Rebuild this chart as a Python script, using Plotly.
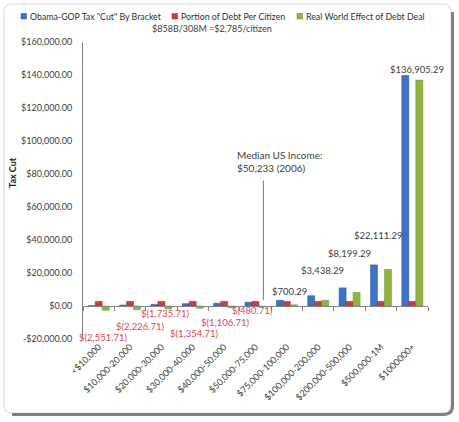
import plotly.graph_objects as go

# income brackets and series values
brackets = ["<$10,000", "$10,000-20,000", "$20,000-30,000", "$30,000-40,000",
            "$40,000-50,000", "$50,000-75,000", "$75,000-100,000",
            "$100,000-200,000", "$200,000-500,000", "$500,000-1M", "$1000000+"]
tax_cut = [233.29, 558.29, 1049.29, 1430.29, 1678.29, 2304.29, 3485.29,
           6223.29, 10984.29, 24896.29, 139690.29]
debt_per_citizen = [2785] * 11
real_effect = [-2551.71, -2226.71, -1735.71, -1354.71, -1106.71, -480.71, 700.29,
               3438.29, 8199.29, 22111.29, 136905.29]

y_ticks = [-20000, 0, 20000, 40000, 60000, 80000, 100000, 120000, 140000, 160000]
y_ticktext = ["-$20,000.00", "$0.00", "$20,000.00", "$40,000.00", "$60,000.00",
              "$80,000.00", "$100,000.00", "$120,000.00", "$140,000.00", "$160,000.00"]

series_names = ['Obama-GOP Tax "Cut" By Bracket', "Portion of Debt Per Citizen",
                "Real World Effect of Debt Deal"]
colors = ["#3D72C4", "#D23B3B", "#8DB63C"]
edges = ["#2A5599", "#A52828", "#6A8E28"]

# label placement (manual in the original): y in data units, x shift in px
label_y = [-18800, -12700, -4800, -16400, -9700, -3000, 8500, 21800, 32100, 43000, 143600]
label_dx = [5, 10, 4, 2, 1, -3, 3, 4, 0, -3, 5]
legend_x = [21, 172, 297]  # left edge of each legend square, px

W, H = 459, 422
ML, MR, MT, MB = 83, 31, 42, 83
PW, PH = W - ML - MR, H - MT - MB


def px(x):
    return (x - ML) / PW


def py(y):
    return (H - MB - y) / PH


def rounded(x0, y0, x1, y1, r):
    return (f"M {px(x0 + r)},{py(y0)} L {px(x1 - r)},{py(y0)} Q {px(x1)},{py(y0)} {px(x1)},{py(y0 + r)} "
            f"L {px(x1)},{py(y1 - r)} Q {px(x1)},{py(y1)} {px(x1 - r)},{py(y1)} "
            f"L {px(x0 + r)},{py(y1)} Q {px(x0)},{py(y1)} {px(x0)},{py(y1 - r)} "
            f"L {px(x0)},{py(y0 + r)} Q {px(x0)},{py(y0)} {px(x0 + r)},{py(y0)} Z")


def shadow(x1, y1, x0, y0, r):
    # right and bottom edges only
    return (f"M {px(x1)},{py(y0)} L {px(x1)},{py(y1 - r)} Q {px(x1)},{py(y1)} {px(x1 - r)},{py(y1)} "
            f"L {px(x0)},{py(y1)}")


fig = go.Figure()
for vals, name, c, e in zip([tax_cut, debt_per_citizen, real_effect], series_names, colors, edges):
    fig.add_bar(x=brackets, y=vals, name=name, showlegend=False,
                marker=dict(color=c, line=dict(color=e, width=0.5)))

# legend drawn by hand so the entries sit where the original has them
for lx, name, c, e in zip(legend_x, series_names, colors, edges):
    fig.add_shape(type="rect", xref="paper", yref="paper", x0=px(lx), x1=px(lx + 5.5),
                  y0=py(13.5), y1=py(19), fillcolor=c, line=dict(color=e, width=0.5))
    fig.add_annotation(x=px(lx + 6.5), y=py(16.5), xref="paper", yref="paper", showarrow=False,
                       xanchor="left", yanchor="middle", text=name,
                       font=dict(size=8.8, color="#303030"))

for i, b in enumerate(brackets):
    v = real_effect[i]
    txt = f"$({abs(v):,.2f})" if v < 0 else f"${v:,.2f}"
    fig.add_annotation(x=b, y=label_y[i], text=txt, showarrow=False, xshift=label_dx[i],
                       xanchor="center", yanchor="middle",
                       font=dict(size=9.5, color="#E0474C" if v < 0 else "#404040"))

fig.add_annotation(x=px(235), y=py(147), xref="paper", yref="paper", xanchor="left", yanchor="top",
                   align="left", showarrow=False, text="Median US Income:<br>$50,233 (2006)",
                   font=dict(size=10, color="#404040"))
fig.add_shape(type="line", xref="x", yref="y", x0=5.25, x1=5.25, y0=3600, y1=76000,
              line=dict(color="#4A7EBB", width=1))

fig.add_annotation(x=px(212), y=py(28), xref="paper", yref="paper", showarrow=False,
                   xanchor="center", yanchor="middle",
                   text="$858B/308M =$2,785/citizen", font=dict(size=9, color="#404040"))
fig.add_annotation(x=px(12), y=py(173), xref="paper", yref="paper", showarrow=False,
                   xanchor="center", yanchor="middle",
                   text="<b>Tax Cut</b>", textangle=-90, font=dict(size=9, color="#202020"))

# frame with shadow on the right and bottom
fig.add_shape(type="path", xref="paper", yref="paper", path=rounded(4, 4, 451, 413, 8),
              line=dict(color="#D8D8D8", width=1), fillcolor="white", layer="below")
fig.add_shape(type="path", xref="paper", yref="paper", path=shadow(452.5, 414.5, 12, 12, 9),
              line=dict(color="#808080", width=3), layer="below")

fig.update_layout(
    width=W, height=H, margin=dict(l=ML, r=MR, t=MT, b=MB, autoexpand=False),
    paper_bgcolor="white", plot_bgcolor="rgba(0,0,0,0)",
    font=dict(family="Lato, Open Sans, sans-serif", color="#404040", size=9),
    barmode="group", bargap=0.33, bargroupgap=0,
    showlegend=False,
    xaxis=dict(range=[-0.5, len(brackets) - 0.5], tickangle=-45, showline=False, ticks="",
               tickfont=dict(size=9)),
    xaxis2=dict(overlaying="x", matches="x", anchor="free", position=py(306),
                showline=True, linecolor="#868686", ticks="outside", ticklen=4,
                tickcolor="#868686", tickson="boundaries", showticklabels=False,
                showgrid=False, zeroline=False),
    yaxis=dict(range=[-20000, 160000], tickvals=y_ticks, ticktext=y_ticktext,
               showgrid=False, zeroline=False, showline=True, linecolor="#868686",
               ticks="", ticklabelstandoff=8, tickfont=dict(size=9)),
)
# invisible trace to activate xaxis2
fig.add_scatter(x=brackets, y=[0] * 11, xaxis="x2", mode="lines", line=dict(width=0),
                showlegend=False, hoverinfo="skip")

fig.write_html("out.html", config={"displayModeBar": False},
               post_script="document.body.style.margin='0';")
